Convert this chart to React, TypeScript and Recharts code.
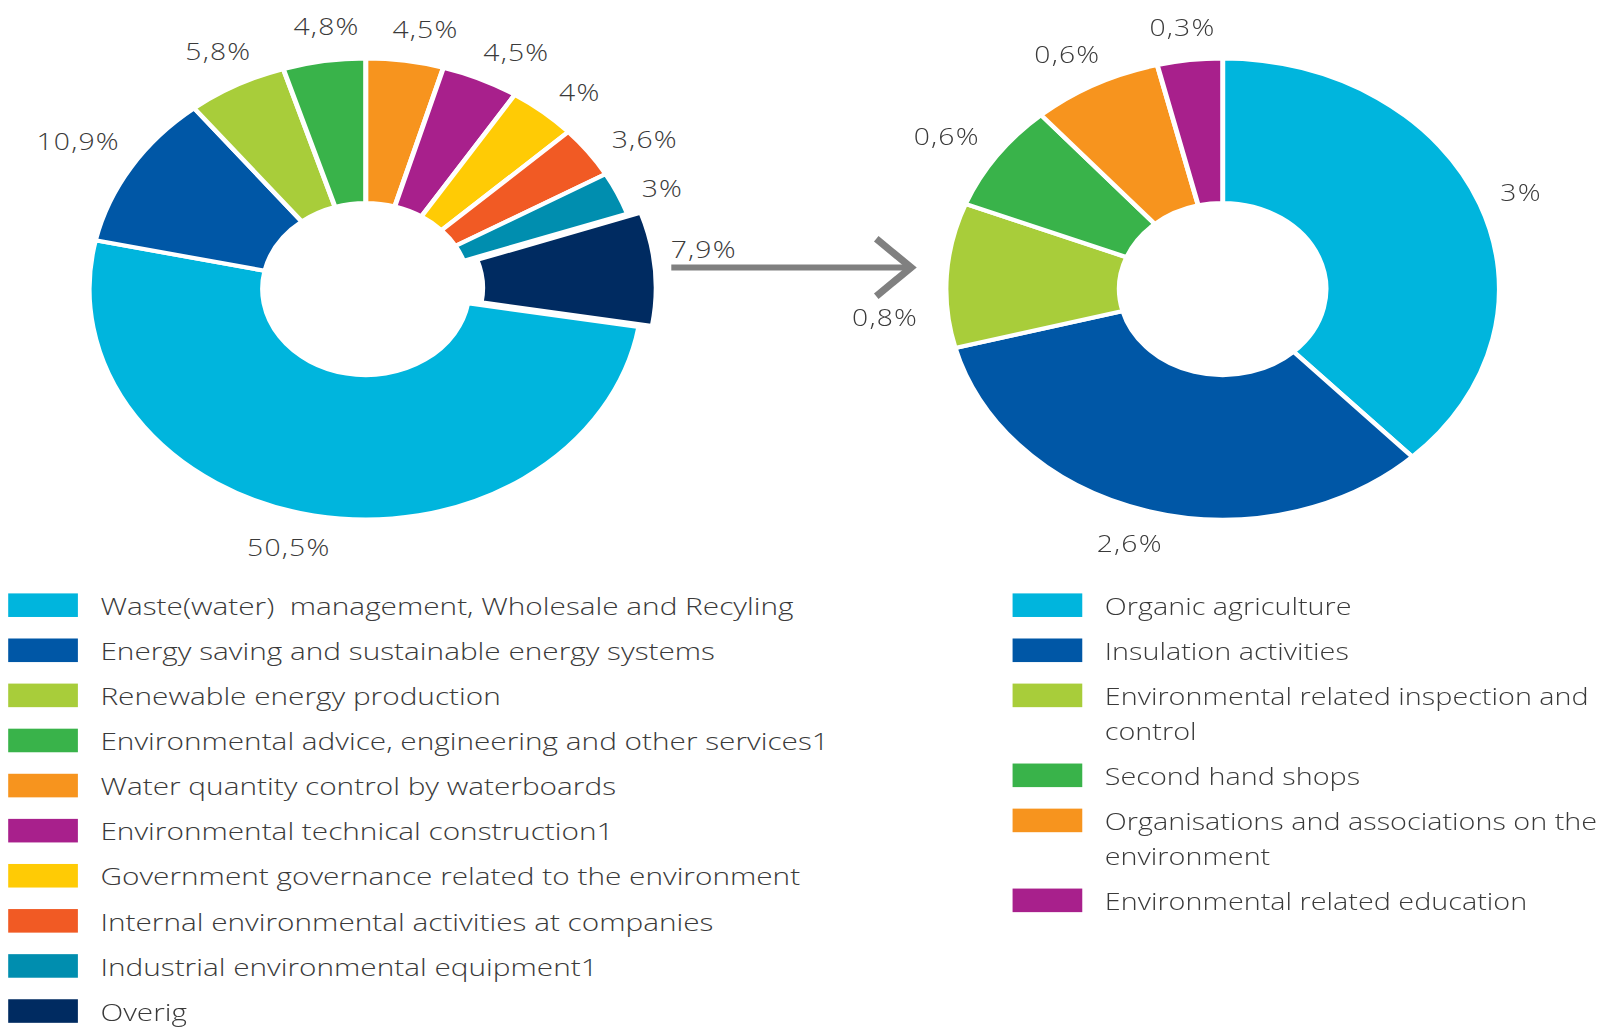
import React from "react";
import { Cell, Legend, Pie, PieChart, Sector } from "recharts";

const leftCategories = [
  "Waste(water)  management, Wholesale and Recyling",
  "Energy saving and sustainable energy systems",
  "Renewable energy production",
  "Environmental advice, engineering and other services1",
  "Water quantity control by waterboards",
  "Environmental technical construction1",
  "Government governance related to the environment",
  "Internal environmental activities at companies",
  "Industrial environmental equipment1",
  "Overig",
];
const leftValues = [50.5, 10.9, 5.8, 4.8, 4.5, 4.5, 4, 3.6, 3, 7.9];
const leftColors = [
  "#00b5dd",
  "#0057a6",
  "#a8cd3a",
  "#39b34a",
  "#f7941e",
  "#a8208c",
  "#ffcb05",
  "#f15a24",
  "#008eaf",
  "#002b61",
];

const rightCategories = [
  "Organic agriculture",
  "Insulation activities",
  "Environmental related inspection and control",
  "Second hand shops",
  "Organisations and associations on the environment",
  "Environmental related education",
];
const rightValues = [3, 2.6, 0.8, 0.6, 0.6, 0.3];
const rightColors = ["#00b5dd", "#0057a6", "#a8cd3a", "#39b34a", "#f7941e", "#a8208c"];

const FONT = "'Open Sans', sans-serif";
const TEXT = "#3a3a3a";
const SX = 1.2; // the original is stretched sideways: donuts and text alike
const RAD = Math.PI / 180;
const ARROW_Y = 261;
const ARROW_X1 = 655;
const ARROW_X2 = 893;

const fmt = (v: number) => `${String(v).replace(".", ",")}%`;

function EllipseSector(props: any) {
  const { cx, cy, midAngle } = props;
  const name = props.payload?.name ?? props.name;
  let ox = 0;
  let oy = 0;
  if (name === "Overig") {
    ox = 11 * Math.cos(-midAngle * RAD);
    oy = 11 * Math.sin(-midAngle * RAD);
  }
  return (
    <g transform={`translate(${cx} ${cy}) scale(${SX} 1) translate(${-cx} ${-cy})`}>
      <Sector {...props} cx={cx + ox} cy={cy + oy} stroke="#fff" strokeWidth={4} />
    </g>
  );
}

function makeLabel(pageLeft: number, bias: number) {
  return (props: any) => {
    const { cx, cy, midAngle, value } = props;
    const text = fmt(value);
    const a = -(midAngle - bias) * RAD;
    const ux = Math.cos(a);
    const uy = Math.sin(a);
    const R = 247;
    const w = text.length * 14 * SX;
    const h = 22;
    const x = cx + SX * R * ux + (ux * w) / 2;
    let y = cy + R * uy + (uy * h) / 2;
    // keep labels off the connecting arrow: above it at its tail, below it at its head
    const px = x + pageLeft;
    if (px + w / 2 > ARROW_X1 && px - w / 2 < ARROW_X2 && Math.abs(y - ARROW_Y) < 30) {
      y = px < (ARROW_X1 + ARROW_X2) / 2 ? ARROW_Y - 18 : ARROW_Y + 48;
    }
    return (
      <text
        transform={`translate(${x} ${y}) scale(${SX} 1)`}
        textAnchor="middle"
        dominantBaseline="central"
        fill={TEXT}
        fontFamily={FONT}
        fontWeight={300}
        fontSize={23}
        letterSpacing={1}
      >
        {text}
      </text>
    );
  };
}

function LegendList({
  names,
  colors,
  textWidth,
  stretch,
}: {
  names: string[];
  colors: string[];
  textWidth: number;
  stretch: number;
}) {
  return (
    <div style={{ fontFamily: FONT, fontWeight: 300, fontSize: 24, color: TEXT }}>
      {names.map((name, i) => (
        <div key={name} style={{ display: "flex", alignItems: "flex-start", marginBottom: 10 }}>
          <span style={{ width: 68, height: 23, marginTop: 5, background: colors[i], flex: "none" }} />
          <span
            style={{
              marginLeft: 22,
              lineHeight: "34px",
              width: textWidth,
              whiteSpace: "pre-wrap",
              transform: `scaleX(${stretch})`,
              transformOrigin: "0 0",
            }}
          >
            {name}
          </span>
        </div>
      ))}
    </div>
  );
}

const leftData = leftCategories.map((name, i) => ({ name, value: leftValues[i] }));
const rightData = rightCategories.map((name, i) => ({ name, value: rightValues[i] }));

const leftTotal = leftValues.reduce((s, v) => s + v, 0);
// the first four slices sit left of twelve o'clock, so the water-board slice starts at the top
const leftStart = 90 + (leftValues.slice(0, 4).reduce((s, v) => s + v, 0) / leftTotal) * 360;

export default function App() {
  return (
    <div
      style={{
        position: "absolute",
        left: 0,
        top: 0,
        width: 1568,
        height: 1002,
        background: "#fff",
        transform: `scale(${1607 / 1568})`,
        transformOrigin: "0 0",
      }}
    >
      <div style={{ position: "absolute", left: 0, top: 0 }}>
        <PieChart width={800} height={1002} margin={{ top: 0, right: 0, bottom: 0, left: 0 }}>
          <Pie
            data={leftData}
            dataKey="value"
            nameKey="name"
            cx={357}
            cy={282}
            innerRadius={84}
            outerRadius={225}
            startAngle={leftStart}
            endAngle={leftStart - 360}
            shape={EllipseSector}
            label={makeLabel(0, 2)}
            labelLine={false}
            isAnimationActive={false}
          >
            {leftData.map((d, i) => (
              <Cell key={d.name} fill={leftColors[i]} />
            ))}
          </Pie>
          <Legend
            layout="horizontal"
            verticalAlign="bottom"
            wrapperStyle={{ position: "absolute", top: 574, left: 8, width: 800, bottom: "auto" }}
            content={() => <LegendList names={leftCategories} colors={leftColors} textWidth={680} stretch={1.21} />}
          />
        </PieChart>
      </div>
      <div style={{ position: "absolute", left: 800, top: 0 }}>
        <PieChart width={768} height={1002} margin={{ top: 0, right: 0, bottom: 0, left: 0 }}>
          <Pie
            data={rightData}
            dataKey="value"
            nameKey="name"
            cx={393}
            cy={282}
            innerRadius={84}
            outerRadius={225}
            startAngle={90}
            endAngle={-270}
            shape={EllipseSector}
            label={makeLabel(800, 0)}
            labelLine={false}
            isAnimationActive={false}
          >
            {rightData.map((d, i) => (
              <Cell key={d.name} fill={rightColors[i]} />
            ))}
          </Pie>
          <Legend
            layout="horizontal"
            verticalAlign="bottom"
            wrapperStyle={{ position: "absolute", top: 574, left: 188, width: 580, bottom: "auto" }}
            content={() => <LegendList names={rightCategories} colors={rightColors} textWidth={430} stretch={1.17} />}
          />
        </PieChart>
      </div>
      <svg width={1568} height={1002} style={{ position: "absolute", left: 0, top: 0, pointerEvents: "none" }}>
        <line x1={ARROW_X1} y1={ARROW_Y} x2={ARROW_X2 - 4} y2={ARROW_Y} stroke="#808080" strokeWidth={6} />
        <polyline
          points={`${ARROW_X2 - 38},${ARROW_Y - 28} ${ARROW_X2 - 4},${ARROW_Y} ${ARROW_X2 - 38},${ARROW_Y + 28}`}
          fill="none"
          stroke="#808080"
          strokeWidth={7}
        />
      </svg>
    </div>
  );
}
